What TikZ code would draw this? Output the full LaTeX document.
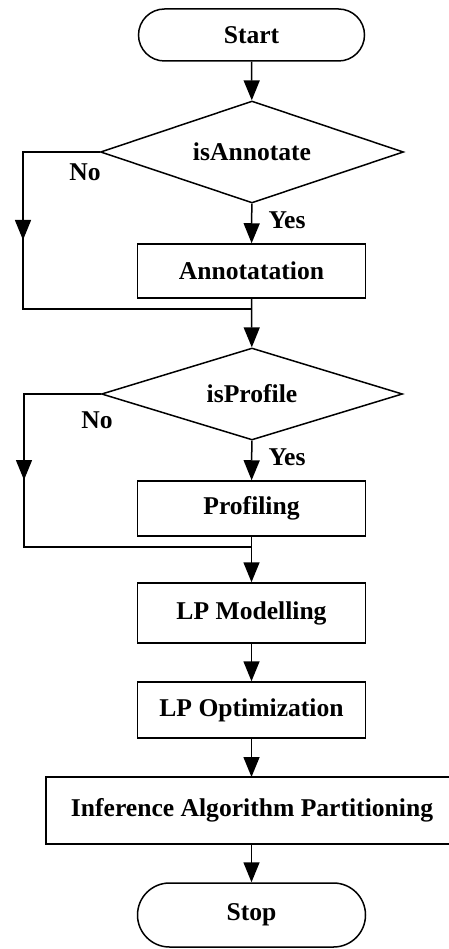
\documentclass[tikz,border=0pt]{standalone}
\usepackage{fontspec}
\setmainfont{Liberation Serif}
\usetikzlibrary{arrows.meta,shapes.geometric}
\begin{document}
\begin{tikzpicture}[x=1pt,y=-1pt,
  line width=1.5pt,
  font=\fontsize{25.6}{28}\selectfont\bfseries,
  arr/.style={-{Triangle[width=16pt,length=20pt]}},
  procbox/.style={draw, rectangle, inner sep=0pt, minimum width=228pt, minimum height=#1},
  terminal/.style={draw, rectangle, rounded corners=#1, inner sep=0pt, minimum width=226pt, minimum height=2*#1},
  decision/.style={draw, diamond, inner sep=0pt, aspect=3},
  lbl/.style={inner sep=0pt}]
\useasboundingbox (0,0) rectangle (448,949);

% main column
\node[terminal=26pt] (start) at (251.5,35) {Start};
\node[decision, minimum width=303pt, minimum height=102pt] (d1) at (252,152) {isAnnotate};
\node[procbox=54pt] (annot) at (251.5,271) {Annotatation};
\node[decision, minimum width=301pt, minimum height=92pt] (d2) at (252,394) {isProfile};
\node[procbox=55pt] (prof) at (251.5,508.5) {Profiling};
\node[procbox=60pt] (lpm) at (251.5,613) {LP Modelling};
\node[procbox=56pt] (lpo) at (251.5,710) {LP Optimization};
% the wide box runs past the right edge of the page
\node[procbox=67pt, minimum width=424pt] (inf) at (258,810.5) {};
\node (inftext) at (252,810.5) {Inference Algorithm Partitioning};
\node[terminal=32pt, minimum width=228pt] (stop) at (251.5,915) {Stop};

% bypass corners and join points
\coordinate (b1top) at (23,152);
\coordinate (b1tip) at (23,240);
\coordinate (b1bot) at (23,309);
\coordinate (j1) at (251.5,309);
\coordinate (b2top) at (24,394);
\coordinate (b2tip) at (24,480);
\coordinate (b2bot) at (24,547);
\coordinate (j2) at (251.5,547);
\coordinate (inftop) at (251.5,777);
\coordinate (infbot) at (251.5,844);

% straight flow
\draw[arr] (start) -- (d1);
\draw[arr] (d1) -- (annot);
\draw[arr] (annot) -- (d2);
\draw[arr] (d2) -- (prof);
\draw[arr] (prof) -- (lpm);
\draw[arr] (lpm) -- (lpo);
\draw[arr] (lpo) -- (inftop);
\draw[arr] (infbot) -- (stop);

% "No" bypass branches
\draw (d1.west) -- (b1top) -- (b1bot) -- (j1);
\draw[arr] (b1top) -- (b1tip);
\draw (d2.west) -- (b2top) -- (b2bot) -- (j2);
\draw[arr] (b2top) -- (b2tip);

% branch labels
\node[lbl] (no1) at (85,172) {No};
\node[lbl] (yes1) at (287,220) {Yes};
\node[lbl] (no2) at (97,420) {No};
\node[lbl] (yes2) at (287,457) {Yes};
\end{tikzpicture}
\end{document}
